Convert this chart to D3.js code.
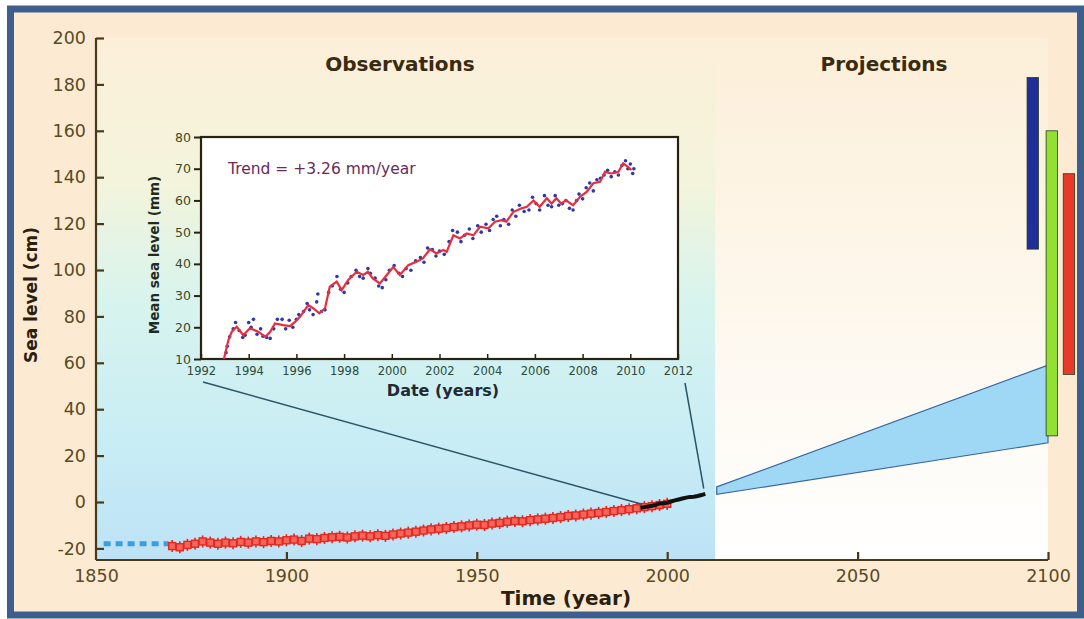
<!DOCTYPE html>
<html>
<head>
<meta charset="utf-8" />
<script src="https://d3js.org/d3.v7.min.js"></script>
<title>Sea level</title>
<style>
  body { margin: 0; background: #fff; }
  text { font-family: "DejaVu Sans", sans-serif; }
</style>
</head>
<body>
<svg id="chart" width="1084" height="619"></svg>
<script>
// ---- data ----
var xTicks = [1850, 1900, 1950, 2000, 2050, 2100];
var yTicks = [-20, 0, 20, 40, 60, 80, 100, 120, 140, 160, 180, 200];

// early estimate (dashed blue)
var earlyYears = [1852, 1869];
var earlyLevel = [-18, -18];

// tide gauge record, every 2 years from 1870 (cm)
var gaugeStart = 1870;
var gaugeLevels = [-19, -19.5, -18.5, -18, -17, -17.5, -18, -17.5, -17.8, -17.2,
  -17.5, -17, -17.3, -16.8, -17, -16.5, -16.2, -16.8, -15.8, -16,
  -15.5, -15.2, -15, -15.3, -14.8, -14.5, -14.8, -14.3, -14.6, -14,
  -13.6, -13.2, -12.8, -12.3, -11.8, -11.5, -11.2, -10.8, -10.5, -10.1,
  -9.8, -9.9, -9.3, -9, -8.5, -8.2, -8.3, -7.8, -7.5, -7.2,
  -6.9, -6.5, -6, -5.8, -5.4, -5, -4.7, -4.3, -3.9, -3.5,
  -3.1, -2.7, -2.2, -1.8, -1.3, -0.8];

// satellite record, yearly from 1993 (cm)
var satStart = 1993;
var satLevels = [-2.5, -2.2, -1.9, -1.6, -1.2, -0.6, -0.5, -0.3, 0.2, 0.7,
  1.1, 1.5, 1.9, 2.2, 2.3, 2.6, 3.0, 3.5];

// projection cone
var coneYears = [2013, 2100];
var coneLow = [3.3, 25.5];
var coneHigh = [6.5, 59];

// projection ranges at 2100
var barYears = [2096, 2101, 2105.5];
var barLow = [109, 28.5, 55];
var barHigh = [183, 160, 141.5];
var barColors = ["#1f2f9a", "#92e032", "#e83a26"];

// inset: satellite altimetry
var insetXTicks = [1992, 1994, 1996, 1998, 2000, 2002, 2004, 2006, 2008, 2010, 2012];
var insetYTicks = [10, 20, 30, 40, 50, 60, 70, 80];
var insetLine = [[1992.96,10],[1993.15,16],[1993.29,18.6],[1993.5,20.2],[1993.77,17.5],[1994.05,19.7],
  [1994.4,18.6],[1994.7,17],[1994.9,18.6],[1995.1,21.2],[1995.45,20.7],[1995.73,20.4],[1995.94,21.7],
  [1996.15,23.3],[1996.5,27],[1996.7,26],[1996.96,24.4],[1997.2,26],[1997.4,32.8],[1997.69,34.4],
  [1997.9,31.7],[1998.17,34.9],[1998.53,37.5],[1998.8,36.5],[1999.0,37.5],[1999.2,35.4],[1999.5,33.8],
  [1999.79,36.5],[2000.06,39],[2000.34,36.5],[2000.69,39.6],[2001.04,40.7],[2001.3,41.7],[2001.6,44.6],
  [2001.88,43.3],[2002.16,44.4],[2002.3,43.8],[2002.58,49],[2002.86,48],[2003.14,49.6],[2003.42,49],
  [2003.7,51.7],[2004.05,51.2],[2004.33,53.3],[2004.6,53.8],[2004.8,53.3],[2005.1,56.4],[2005.44,57.5],
  [2005.66,58],[2005.94,60],[2006.2,58],[2006.5,60.7],[2006.7,59],[2006.9,60.7],[2007.1,59],[2007.3,60],
  [2007.6,58.5],[2007.9,61.2],[2008.17,62.7],[2008.45,65.4],[2008.73,65.9],[2008.94,69],[2009.2,68.5],
  [2009.5,69],[2009.7,71.7],[2009.9,70.6],[2010.05,69.6]];
var insetDots = [[1993.05,12],[1993.1,14],[1993.2,17],[1993.35,19.5],[1993.45,21.5],[1993.6,19],[1993.75,16.8],
  [1993.85,17.5],[1994.0,21.5],[1994.1,20],[1994.2,22.5],[1994.35,17.8],[1994.5,19.5],[1994.6,17.2],
  [1994.75,16.8],[1994.9,16.5],[1995.05,19.5],[1995.2,22.5],[1995.4,22.5],[1995.55,19.5],[1995.7,22.2],
  [1995.85,20],[1996.0,22.5],[1996.1,24],[1996.3,25],[1996.45,27.5],[1996.55,25.5],[1996.7,24],
  [1996.85,28],[1996.9,30.5],[1997.05,25],[1997.2,25.5],[1997.35,31],[1997.5,33],[1997.7,36],
  [1997.85,32],[1998.0,31],[1998.15,34],[1998.3,36],[1998.5,38],[1998.65,36],[1998.8,35.5],
  [1999.0,38.5],[1999.1,37],[1999.3,35.5],[1999.45,33],[1999.6,32.5],[1999.75,35],[1999.9,38],
  [2000.1,39.5],[2000.3,37],[2000.45,36],[2000.6,38.5],[2000.8,38],[2001.0,41],[2001.2,42],
  [2001.35,40.5],[2001.5,45],[2001.7,44.5],[2001.85,42.5],[2002.0,44],[2002.2,43],[2002.4,47],
  [2002.55,50.5],[2002.75,50],[2002.9,47],[2003.05,49],[2003.25,51],[2003.4,48],[2003.6,52],
  [2003.75,50],[2003.95,52.5],[2004.1,50.5],[2004.25,54],[2004.4,55],[2004.55,52],[2004.7,54],
  [2004.9,52.5],[2005.05,57],[2005.2,55],[2005.35,58.5],[2005.55,56.5],[2005.75,57],[2005.9,61],
  [2006.05,59],[2006.2,57],[2006.4,61.5],[2006.55,58.5],[2006.7,58],[2006.85,61.5],[2007.0,58.5],
  [2007.15,59],[2007.3,60],[2007.45,57.5],[2007.6,57],[2007.75,60],[2007.85,62],[2008.0,60.5],
  [2008.15,64],[2008.3,65.5],[2008.45,63],[2008.6,66.5],[2008.75,67],[2008.9,68],[2009.05,69.5],
  [2009.2,67.5],[2009.35,69],[2009.5,68],[2009.65,71],[2009.8,72.5],[2009.9,70],[2010.0,71.5],
  [2010.1,68.5],[2010.15,70]];

// ---- layout ----
var svg = d3.select("#chart");
var axisColor = "#4a3a1c";
var labelColor = "#5a4a22";
var plain = function(d) { return String(d); };

var x = d3.scaleLinear().domain([1850, 2100]).range([96, 1048]);
var y = d3.scaleLinear().domain([-25, 200]).range([560, 38]);
var splitYear = 2012.6;

// frame
svg.append("rect").attr("x", 0).attr("y", 0).attr("width", 1084).attr("height", 619).attr("fill", "#fff");
svg.append("rect").attr("x", 10.5).attr("y", 9).attr("width", 1070).attr("height", 606)
  .attr("fill", "#fcebd2").attr("stroke", "#3e5e8d").attr("stroke-width", 7);

var defs = svg.append("defs");
var g1 = defs.append("linearGradient").attr("id", "obs").attr("x1", 0).attr("y1", 0).attr("x2", 0).attr("y2", 1);
g1.append("stop").attr("offset", "0%").attr("stop-color", "#fcefd9");
g1.append("stop").attr("offset", "28%").attr("stop-color", "#f3f4dc");
g1.append("stop").attr("offset", "50%").attr("stop-color", "#d8f4ee");
g1.append("stop").attr("offset", "78%").attr("stop-color", "#c8edf5");
g1.append("stop").attr("offset", "100%").attr("stop-color", "#bde2f6");
var g2 = defs.append("linearGradient").attr("id", "proj").attr("x1", 0).attr("y1", 0).attr("x2", 0).attr("y2", 1);
g2.append("stop").attr("offset", "0%").attr("stop-color", "#fcefd9");
g2.append("stop").attr("offset", "100%").attr("stop-color", "#ffffff");

svg.append("rect").attr("x", x(1850)).attr("y", y(200))
  .attr("width", x(splitYear) - x(1850)).attr("height", y(-25) - y(200)).attr("fill", "url(#obs)");
svg.append("rect").attr("x", x(splitYear)).attr("y", y(200))
  .attr("width", x(2100) - x(splitYear)).attr("height", y(-25) - y(200)).attr("fill", "url(#proj)");

// section titles
svg.append("text").attr("x", 400).attr("y", 71).attr("text-anchor", "middle")
  .attr("font-size", 20).attr("font-weight", "bold").attr("fill", "#3a2a12").text("Observations");
svg.append("text").attr("x", 884).attr("y", 71).attr("text-anchor", "middle")
  .attr("font-size", 20).attr("font-weight", "bold").attr("fill", "#3a2a12").text("Projections");

// axes
var yAxis = svg.append("g").attr("transform", "translate(" + x(1850) + ",0)")
  .call(d3.axisRight(y).tickValues(yTicks).tickSize(8).tickFormat(plain));
yAxis.select(".domain").attr("d", "M0," + y(200) + "V" + y(-25));
yAxis.selectAll("text").attr("x", -10).attr("text-anchor", "end")
  .attr("font-size", 17.5).attr("fill", labelColor).attr("font-family", "DejaVu Sans");

var xAxis = svg.append("g").attr("transform", "translate(0," + y(-25) + ")")
  .call(d3.axisTop(x).tickValues(xTicks).tickSize(8).tickFormat(plain));
xAxis.select(".domain").attr("d", "M" + x(1850) + ",0H" + x(2100));
xAxis.selectAll("text").attr("y", 22).attr("dy", 0)
  .attr("font-size", 17.5).attr("fill", labelColor).attr("font-family", "DejaVu Sans");
svg.selectAll(".domain").attr("stroke", axisColor).attr("stroke-width", 2.2);
svg.selectAll(".tick line").attr("stroke", axisColor).attr("stroke-width", 2.2);
xAxis.selectAll(".tick").filter(function(d) { return d === 1850; }).select("line").remove();

svg.append("text").attr("transform", "translate(37,295) rotate(-90)").attr("text-anchor", "middle")
  .attr("font-size", 17).attr("font-weight", "bold").attr("fill", "#2a2010")
  .attr("font-family", "Liberation Sans").text("Sea level (cm)");
svg.append("text").attr("x", 566).attr("y", 605).attr("text-anchor", "middle")
  .attr("font-size", 20).attr("font-weight", "bold").attr("fill", "#2a2010").text("Time (year)");

// early dashed estimate
svg.append("line").attr("x1", x(earlyYears[0])).attr("x2", x(earlyYears[1]))
  .attr("y1", y(earlyLevel[0])).attr("y2", y(earlyLevel[1]))
  .attr("stroke", "#3a9ee0").attr("stroke-width", 5).attr("stroke-dasharray", "7,5");

// tide gauge: squares with error bars
var gauge = gaugeLevels.map(function(v, i) { return [gaugeStart + 2 * i, v]; });
var gg = svg.append("g");
gg.selectAll("line").data(gauge).enter().append("line")
  .attr("x1", function(d) { return x(d[0]); }).attr("x2", function(d) { return x(d[0]); })
  .attr("y1", function(d) { return y(d[1] - 2.6); }).attr("y2", function(d) { return y(d[1] + 2.6); })
  .attr("stroke", "#e8261e").attr("stroke-width", 1.6);
gg.selectAll("rect").data(gauge).enter().append("rect")
  .attr("x", function(d) { return x(d[0]) - 3.5; }).attr("y", function(d) { return y(d[1]) - 3.5; })
  .attr("width", 7).attr("height", 7)
  .attr("fill", "#f4665a").attr("stroke", "#e8261e").attr("stroke-width", 1.4);

// satellite line
var sat = satLevels.map(function(v, i) { return [satStart + i, v]; });
svg.append("path").datum(sat)
  .attr("d", d3.line().x(function(d) { return x(d[0]); }).y(function(d) { return y(d[1]); }))
  .attr("fill", "none").attr("stroke", "#111").attr("stroke-width", 4);

// projection cone
var cone = coneYears.map(function(yr, i) { return { yr: yr, lo: coneLow[i], hi: coneHigh[i] }; });
svg.append("path").datum(cone)
  .attr("d", d3.area().x(function(d) { return x(d.yr); })
    .y0(function(d) { return y(d.lo); }).y1(function(d) { return y(d.hi); }))
  .attr("fill", "#9fd8f5").attr("stroke", "#3a66a0").attr("stroke-width", 1.2);

// projection bars
svg.selectAll(".pbar").data(barYears).enter().append("rect").attr("class", "pbar")
  .attr("x", function(d) { return x(d - 1.5); })
  .attr("width", function(d) { return x(d + 1.5) - x(d - 1.5); })
  .attr("y", function(d, i) { return y(barHigh[i]); })
  .attr("height", function(d, i) { return y(barLow[i]) - y(barHigh[i]); })
  .attr("fill", function(d, i) { return barColors[i]; })
  .attr("stroke", "#2a3a20").attr("stroke-width", 0.8);

// ---- inset ----
var box = { left: 201, right: 678, top: 137, bottom: 359 };
var ix = d3.scaleLinear().domain([1992, 2012]).range([box.left, box.right]);
var iy = d3.scaleLinear().domain([10, 80]).range([box.bottom, box.top]);

// connector lines from inset to main record
svg.append("line").attr("x1", ix(1992) + 2).attr("y1", box.bottom + 23)
  .attr("x2", x(1993.4)).attr("y2", y(-1))
  .attr("stroke", "#2a5566").attr("stroke-width", 1.5);
svg.append("line").attr("x1", ix(2012) + 7).attr("y1", box.bottom + 24)
  .attr("x2", x(2009.6)).attr("y2", y(5.8))
  .attr("stroke", "#2a5566").attr("stroke-width", 1.5);

svg.append("rect").attr("x", box.left).attr("y", box.top)
  .attr("width", box.right - box.left).attr("height", box.bottom - box.top)
  .attr("fill", "#fff").attr("stroke", "#2a2210").attr("stroke-width", 2.2);

var iyAxis = svg.append("g").attr("transform", "translate(" + box.left + ",0)")
  .call(d3.axisLeft(iy).tickValues(insetYTicks).tickSize(7).tickPadding(3));
var ixAxis = svg.append("g").attr("transform", "translate(0," + box.bottom + ")")
  .call(d3.axisTop(ix).tickValues(insetXTicks).tickSize(5).tickFormat(d3.format("d")));
iyAxis.select(".domain").remove();
ixAxis.select(".domain").remove();
iyAxis.selectAll("line").attr("stroke", "#2a2210").attr("stroke-width", 2);
ixAxis.selectAll("line").attr("stroke", "#2a2210").attr("stroke-width", 1.5);
iyAxis.selectAll("text").attr("font-size", 12.5).attr("fill", "#3d4a1e").attr("font-family", "DejaVu Sans");
ixAxis.selectAll("text").attr("y", 16).attr("dy", 0)
  .attr("font-size", 11.5).attr("fill", "#2e4a3a").attr("font-family", "DejaVu Sans");

svg.append("text").attr("x", 443).attr("y", 396).attr("text-anchor", "middle")
  .attr("font-size", 16).attr("font-weight", "bold").attr("fill", "#1f2a36").text("Date (years)");
svg.append("text").attr("transform", "translate(159,255) rotate(-90)").attr("text-anchor", "middle")
  .attr("font-size", 13.5).attr("font-weight", "bold").attr("fill", "#1f2a20")
  .attr("font-family", "Liberation Sans").text("Mean sea level (mm)");
svg.append("text").attr("x", 228).attr("y", 174)
  .attr("font-size", 15.5).attr("fill", "#6a2a5a").text("Trend = +3.26 mm/year");

svg.append("g").selectAll("circle").data(insetDots).enter().append("circle")
  .attr("cx", function(d) { return ix(d[0]); }).attr("cy", function(d) { return iy(d[1]); })
  .attr("r", 1.8).attr("fill", "#2d3aa6");
svg.append("path").datum(insetLine)
  .attr("d", d3.line().x(function(d) { return ix(d[0]); }).y(function(d) { return iy(d[1]); }))
  .attr("fill", "none").attr("stroke", "#ea2d3e").attr("stroke-width", 2.2);
</script>
</body>
</html>
